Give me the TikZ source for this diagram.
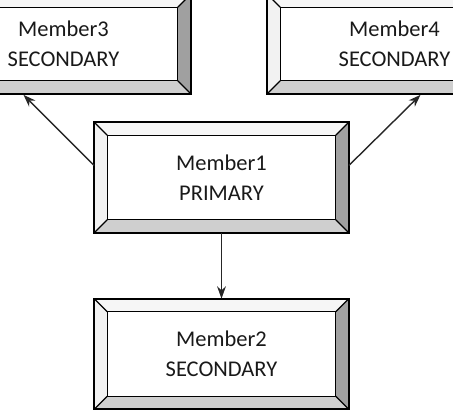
\documentclass[tikz,border=0pt]{standalone}
\usepackage{fontspec}
\setmainfont{Carlito}
\usetikzlibrary{arrows.meta,calc}

\definecolor{topgray}{HTML}{F6F6F6}
\definecolor{leftgray}{HTML}{F2F2F2}
\definecolor{rightgray}{HTML}{A0A0A0}
\definecolor{bottomgray}{HTML}{CFCFCF}

\begin{document}
\begin{tikzpicture}
[x=0.02cm, y=-0.02cm, line width=1pt,
  member/.style={rectangle, minimum width=5.06cm, minimum height=2.18cm, align=center,
    inner sep=0pt, text=black!90, font=\fontsize{12.8}{17}\selectfont},
  short/.style={member, minimum height=1.96cm},
  link/.style={-{Stealth[length=7pt,width=5pt]}, line width=0.8pt, draw=black!85}
]
  \clip (0,0) rectangle (453,413);

  \node[member] (primary) at (221.5,177.5) {Member1\\PRIMARY};
  \node[member] (sec2) at (221.5,354) {Member2\\SECONDARY};
  \node[short] (sec3) at (63.5,44) {Member3\\SECONDARY};
  \node[short] (sec4) at (394.5,44) {Member4\\SECONDARY};

  % bevelled frames
  \foreach \m in {primary,sec2,sec3,sec4} {
    \coordinate (\m-nw) at ($(\m.north west)+(13,13)$);
    \coordinate (\m-ne) at ($(\m.north east)+(-13,13)$);
    \coordinate (\m-se) at ($(\m.south east)+(-13,-13)$);
    \coordinate (\m-sw) at ($(\m.south west)+(13,-13)$);
    \fill[topgray] (\m.north west) -- (\m.north east) -- (\m-ne) -- (\m-nw) -- cycle;
    \fill[leftgray] (\m.north west) -- (\m.south west) -- (\m-sw) -- (\m-nw) -- cycle;
    \fill[rightgray] (\m.north east) -- (\m.south east) -- (\m-se) -- (\m-ne) -- cycle;
    \fill[bottomgray] (\m.south west) -- (\m.south east) -- (\m-se) -- (\m-sw) -- cycle;
    \draw (\m.north west) rectangle (\m.south east);
    \draw[line width=0.7pt] (\m-nw) rectangle (\m-se);
    \draw[line width=0.7pt] (\m.north west) -- (\m-nw) (\m.north east) -- (\m-ne)
      (\m.south east) -- (\m-se) (\m.south west) -- (\m-sw);
  }

  \draw[link] ($(primary.west)+(0,-12)$) -- ($(sec3.south)+(-40,1)$);
  \draw[link] ($(primary.east)+(0,-12)$) -- ($(sec4.south)+(26,1)$);
  \draw[link] (primary.south) -- (sec2.north);
\end{tikzpicture}
\end{document}
